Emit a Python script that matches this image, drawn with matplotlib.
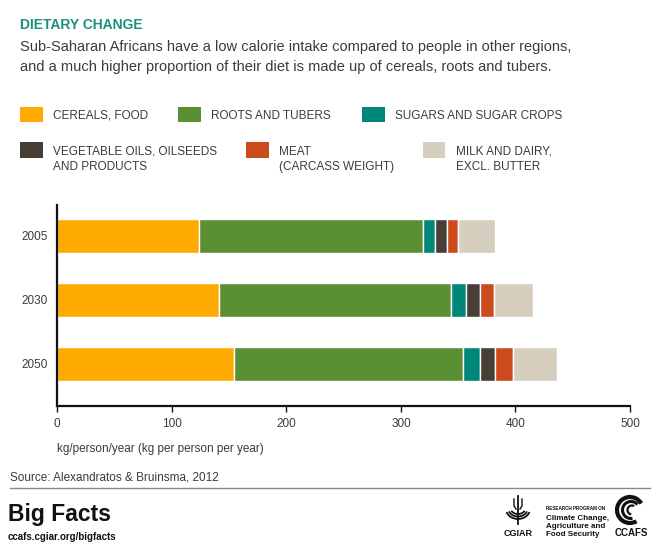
"""Dietary change in Sub-Saharan Africa, stacked bars (CCAFS Big Facts)."""

import matplotlib

matplotlib.use("Agg")
import matplotlib.pyplot as plt
from matplotlib import font_manager
from matplotlib.patches import Arc, Rectangle

years = ["2005", "2030", "2050"]
categories = [
    "CEREALS, FOOD",
    "ROOTS AND TUBERS",
    "SUGARS AND SUGAR CROPS",
    "VEGETABLE OILS, OILSEEDS\nAND PRODUCTS",
    "MEAT\n(CARCASS WEIGHT)",
    "MILK AND DAIRY,\nEXCL. BUTTER",
]
cereals = [124, 141, 154]
roots = [195, 203, 200]
sugars = [11, 13, 15]
oils = [10, 12, 13]
meat = [10, 12, 16]
milk = [32, 34, 38]
series = [cereals, roots, sugars, oils, meat, milk]
colors = ["#FFAA00", "#5A8F32", "#00877A", "#473F35", "#CC4B1C", "#D6CFC0"]
x_ticks = [0, 100, 200, 300, 400, 500]

W, H = 660, 546
TEXT = "#3d3b38"
names = {f.name for f in font_manager.fontManager.ttflist}
SANS = "Liberation Sans" if "Liberation Sans" in names else "DejaVu Sans"
NARROW = "Liberation Sans Narrow" if "Liberation Sans Narrow" in names else None
plt.rcParams["font.family"] = [SANS, "DejaVu Sans"]

fig = plt.figure(figsize=(W / 100, H / 100), dpi=100)

# overlay in pixel coordinates for all the free text and decoration
over = fig.add_axes([0, 0, 1, 1])
over.set_xlim(0, W)
over.set_ylim(H, 0)
over.axis("off")

over.text(20, 29, "DIETARY CHANGE", color="#1A9080", fontsize=10, fontweight="bold")
over.text(20, 50.5, "Sub-Saharan Africans have a low calorie intake compared to people in other regions,",
          color=TEXT, fontsize=10.5)
over.text(20, 71.5, "and a much higher proportion of their diet is made up of cereals, roots and tubers.",
          color=TEXT, fontsize=10.5)

# legend, laid out like the original
legend_pos = [(20, 106.5), (178, 106.5), (362, 106.5), (20, 142.3), (246, 142.3), (422.5, 142.3)]
for (lx, ly), label, col in zip(legend_pos, categories, colors):
    over.add_patch(Rectangle((lx, ly), 22.5, 15.5, facecolor=col, edgecolor="none"))
    for i, line in enumerate(label.split("\n")):
        over.text(lx + 33, ly + 12.3 + i * 15.7, line, color=TEXT, fontsize=8.5)

# main chart
ax = fig.add_axes([57.3 / W, 1 - 406 / H, (630 - 57.3) / W, (406 - 205) / H])
ax.patch.set_alpha(0)
pos = list(range(len(years)))
left = [0] * len(years)
for vals, col in zip(series, colors):
    ax.barh(pos, vals, left=left, height=0.53, color=col, edgecolor="white", linewidth=1.0)
    left = [a + b for a, b in zip(left, vals)]

ax.set_xlim(0, 500)
ax.set_ylim(2 + 42 / 64, -31 / 64)
ax.set_yticks(pos, years)
ax.set_xticks(x_ticks, [str(t) for t in x_ticks])
ax.tick_params(axis="y", length=0, pad=7, labelsize=8.5, labelcolor=TEXT)
ax.tick_params(axis="x", length=4.5, width=1, pad=4, labelsize=8.5, labelcolor=TEXT, color="#111111")
for side in ("top", "right"):
    ax.spines[side].set_visible(False)
for side in ("left", "bottom"):
    ax.spines[side].set_linewidth(1.6)
    ax.spines[side].set_color("#111111")

over.text(57, 452, "kg/person/year (kg per person per year)", color=TEXT, fontsize=8.5)

# footer
over.text(10, 480, "Source: Alexandratos & Bruinsma, 2012", color=TEXT, fontsize=8.5)
over.plot([10, 650], [488, 488], color="#8a8a8a", linewidth=1)
if NARROW:
    over.text(8, 521, "Big Facts", fontsize=20, fontweight="bold", family=NARROW, color="#111111")
    over.text(8, 540, "ccafs.cgiar.org/bigfacts", fontsize=8.5, fontweight="bold", family=NARROW,
              color="#111111")
else:
    over.text(8, 521, "Big Facts", fontsize=16.5, fontweight="bold", color="#111111")
    over.text(8, 540, "ccafs.cgiar.org/bigfacts", fontsize=7, fontweight="bold", color="#111111")

# CGIAR emblem, rough sketch: wheat stalks over nested wings
k = "#111111"
over.plot([518, 518], [496, 524], color=k, lw=1.3)
over.plot([514, 514, 516], [499, 506, 509], color=k, lw=1)
over.plot([522, 522, 520], [499, 506, 509], color=k, lw=1)
for w, h in ((24, 20), (19, 15), (14, 10)):
    over.add_patch(Arc((518, 509), w, h, theta1=15, theta2=165, color=k, lw=1.3))
over.text(518, 536, "CGIAR", fontsize=6.5, fontweight="bold", ha="center", color=k)

over.text(546, 510.5, "RESEARCH PROGRAM ON", fontsize=3.3, fontweight="bold", color=k)
over.text(546, 520.5, "Climate Change,", fontsize=5.8, fontweight="bold", color=k)
over.text(546, 528.3, "Agriculture and", fontsize=5.8, fontweight="bold", color=k)
over.text(546, 536, "Food Security", fontsize=5.8, fontweight="bold", color=k)

# CCAFS spiral
over.add_patch(Arc((630, 510), 26, 26, theta1=60, theta2=330, color=k, lw=3))
over.add_patch(Arc((631, 510), 17, 17, theta1=80, theta2=320, color=k, lw=2.2))
over.add_patch(Arc((632, 510), 9, 9, theta1=100, theta2=300, color=k, lw=1.6))
over.text(631, 536, "CCAFS", fontsize=7, fontweight="bold", ha="center", color=k)

fig.savefig("out.png", dpi=100)
